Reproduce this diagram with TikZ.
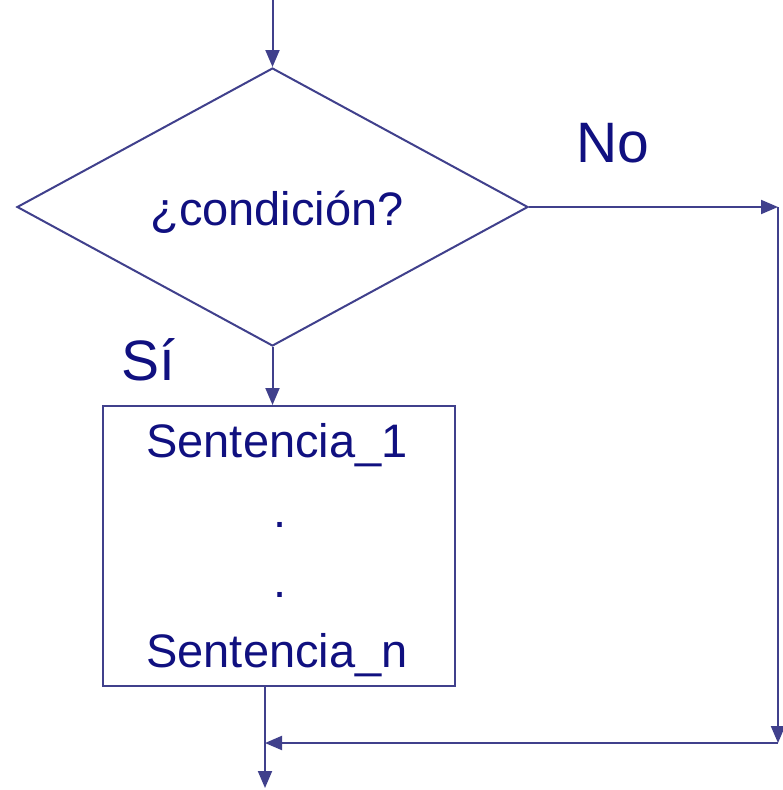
\documentclass[tikz,border=0pt]{standalone}
\usepackage{fontspec}
\setmainfont{Liberation Sans}
\usetikzlibrary{arrows.meta,shapes.geometric}
\definecolor{inkblue}{RGB}{16,16,128}
\definecolor{lineblue}{RGB}{64,64,140}
\tikzset{
  flow/.style={draw=lineblue, line width=2pt},
  arr/.style={flow, -{Triangle[length=17pt,width=14pt]}},
  txt/.style={text=inkblue, inner sep=0pt, anchor=base, font=\fontsize{47}{56}\selectfont},
  lbl/.style={text=inkblue, inner sep=0pt, anchor=base, font=\fontsize{57}{68}\selectfont},
}
\begin{document}
\begin{tikzpicture}[x=1pt,y=-1pt]
  \useasboundingbox[fill=white] (0,0) rectangle (782,790);

  % decision
  \node[flow, diamond, inner sep=0pt, minimum width=511pt, minimum height=278pt,
        aspect=1.84] (cond) at (272.5,207) {};
  \node[txt] (condtxt) at (277,225) {¿condición?};

  % block of statements
  \node[flow, rectangle, inner sep=0pt, minimum width=352pt, minimum height=280pt]
        (body) at (279,546) {};
  \node[txt] (s1) at (277,457) {Sentencia\_1};
  \node[txt] (d1) at (280,527) {.};
  \node[txt] (d2) at (280,597) {.};
  \node[txt] (sn) at (277,667) {Sentencia\_n};

  % branch labels
  \node[lbl] (yes) at (148,380) {Sí};
  \node[lbl] (no) at (613,162) {No};

  % connection points
  \coordinate (in) at (272.5,0);
  \coordinate (corner) at (778,207);
  \coordinate (bcorner) at (778,743);
  \coordinate (join) at (265,743);
  \coordinate (out) at (265,788);

  % connectors
  \draw[arr] (in) -- (cond.north);
  \draw[arr] (cond.south) -- (body.north -| cond.south);
  \draw[arr] (cond.east) -- (corner);
  \draw[arr] (corner) -- (bcorner);
  \draw[arr] (bcorner) -- (join);
  \draw[arr] (body.south -| join) -- (out);
\end{tikzpicture}
\end{document}
